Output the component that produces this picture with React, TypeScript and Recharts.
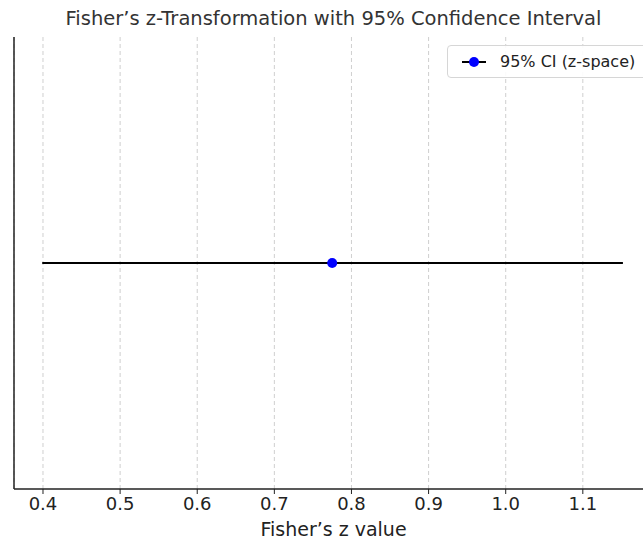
import React from "react";
import { ScatterChart, Scatter, XAxis, YAxis, CartesianGrid, ErrorBar, Legend } from "recharts";

const zValues = [0.775];
const ciLow = [0.399];
const ciHigh = [1.152];
const rowPositions = [0];
const xTicks = [0.4, 0.5, 0.6, 0.7, 0.8, 0.9, 1.0, 1.1];
const seriesName = "95% CI (z-space)";

const data = zValues.map((z, i) => ({
  z,
  y: rowPositions[i],
  err: [z - ciLow[i], ciHigh[i] - z],
}));

const FONT = "'DejaVu Sans', sans-serif";

const LegendBox = () => (
  <div
    style={{
      position: "absolute",
      left: 447,
      top: 45,
      width: 200,
      height: 33,
      border: "1px solid #d6d6d6",
      borderRadius: 4,
      background: "rgba(255,255,255,0.9)",
      fontFamily: FONT,
      fontSize: 16,
      color: "#222",
      display: "flex",
      alignItems: "center",
      boxSizing: "border-box",
    }}
  >
    <svg width={40} height={20} style={{ marginLeft: 8 }}>
      <line x1={6} y1={10} x2={30} y2={10} stroke="#000" strokeWidth={2} />
      <circle cx={18} cy={10} r={5} fill="#0000ff" />
    </svg>
    <span style={{ marginLeft: 4 }}>{seriesName}</span>
  </div>
);

export default function App() {
  return (
    <div style={{ position: "absolute", left: 0, top: 0, width: 643, height: 539, overflow: "hidden", background: "#fff" }}>
      <div
        style={{
          position: "absolute",
          left: 0,
          top: 6,
          width: 667,
          textAlign: "center",
          fontFamily: FONT,
          fontSize: 19.5,
          color: "#333",
          lineHeight: "26px",
        }}
      >
        Fisher’s z-Transformation with 95% Confidence Interval
      </div>
      <ScatterChart width={660} height={539} margin={{ top: 37, right: 7, bottom: 0, left: 13 }}>
        <CartesianGrid horizontal={false} vertical={true} stroke="#cfcfcf" strokeDasharray="4 3" />
        <XAxis
          type="number"
          dataKey="z"
          domain={[0.3624, 1.191]}
          ticks={xTicks}
          tickFormatter={(v: number) => v.toFixed(1)}
          allowDataOverflow
          height={50}
          tickSize={5}
          tickMargin={3}
          tickLine={{ stroke: "#222" }}
          axisLine={{ stroke: "#222", strokeWidth: 1.5 }}
          tick={{ fill: "#222", fontSize: 18, fontFamily: FONT }}
          label={{ value: "Fisher’s z value", position: "insideBottom", offset: 3, fill: "#222", fontSize: 19, fontFamily: FONT }}
        />
        <YAxis
          type="number"
          dataKey="y"
          domain={[-1, 1]}
          width={1}
          tick={false}
          tickLine={false}
          axisLine={{ stroke: "#222", strokeWidth: 1.5 }}
        />
        <Legend content={() => <LegendBox />} wrapperStyle={{ position: "absolute", left: 0, top: 0, width: 0, height: 0 }} />
        <Scatter name={seriesName} data={data} fill="#0000ff" isAnimationActive={false}
          shape={(p: any) => <circle cx={p.cx} cy={p.cy} r={5} fill="#0000ff" />}>
          <ErrorBar dataKey="err" direction="x" width={0} stroke="#000" strokeWidth={2} isAnimationActive={false} />
        </Scatter>
      </ScatterChart>
    </div>
  );
}
